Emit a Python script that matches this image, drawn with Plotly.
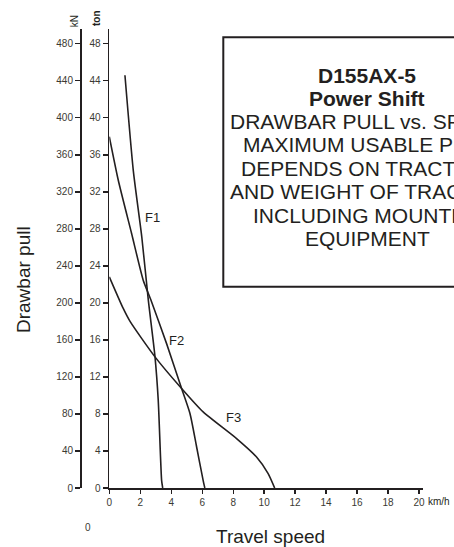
import plotly.graph_objects as go

# ---- data ----
speed_f1 = [1.01, 1.55, 2.10, 2.52, 2.95, 3.16, 3.38, 3.45]
pull_f1 = [44.6, 34.3, 27.1, 20.3, 14.2, 9.5, 0.8, 0.0]

speed_f2 = [0.0, 0.58, 1.44, 2.19, 2.67, 3.70, 4.67, 5.21, 5.64, 6.06, 6.17]
pull_f2 = [37.96, 33.25, 27.5, 22.46, 20.4, 15.6, 10.75, 8.05, 4.43, 0.83, 0.0]

speed_f3 = [0.0, 0.90, 1.34, 2.95, 4.67, 6.06, 8.22, 9.51, 10.26, 10.68]
pull_f3 = [22.82, 19.4, 18.0, 14.17, 10.75, 8.22, 5.34, 3.35, 1.56, 0.0]

gear_names = ["F1", "F2", "F3"]
gear_label_speed = [2.79, 4.35, 8.0]
gear_label_pull = [29.25, 15.9, 7.62]

ton_ticks = [0, 4, 8, 12, 16, 20, 24, 28, 32, 36, 40, 44, 48]
kn_ticks = [0, 40, 80, 120, 160, 200, 240, 280, 320, 360, 400, 440, 480]
speed_ticks = [0, 2, 4, 6, 8, 10, 12, 14, 16, 18, 20]

box_title = ["D155AX-5", "Power Shift"]
box_lines = ["DRAWBAR PULL vs. SPEED", "MAXIMUM USABLE PULL", "DEPENDS ON TRACTION",
             "AND WEIGHT OF TRACTOR", "INCLUDING MOUNTED", "EQUIPMENT"]

# ---- layout geometry ----
W, H = 454, 547
ML, MR, MT, MB = 80, 31, 29, 59
PW = W - ML - MR
PH = H - MT - MB


def px(xr):
    return (xr - ML) / PW


def py(yr):
    return (H - MB - yr) / PH


FONT = "Liberation Sans, Arial, sans-serif"
INK = "#231f20"
TICK = "#3b3a33"

fig = go.Figure()
for sx, sy in [(speed_f1, pull_f1), (speed_f2, pull_f2), (speed_f3, pull_f3)]:
    fig.add_trace(go.Scatter(x=sx, y=sy, mode="lines",
                             line=dict(color=INK, width=1.6, shape="spline", smoothing=0.6),
                             showlegend=False, hoverinfo="skip"))

# invisible trace for the kN axis
fig.add_trace(go.Scatter(x=[0], y=[0], yaxis="y2", mode="markers",
                         marker=dict(opacity=0), showlegend=False, hoverinfo="skip"))

for name, sx, sy in zip(gear_names, gear_label_speed, gear_label_pull):
    fig.add_annotation(x=sx, y=sy, text=name, showarrow=False,
                       font=dict(family=FONT, size=13, color=INK))

x0p = px(109.3)
fig.update_layout(
    width=W, height=H,
    margin=dict(l=ML, r=MR, t=MT, b=MB, pad=0),
    paper_bgcolor="white", plot_bgcolor="white",
    xaxis=dict(domain=[x0p, 1], range=[0, 20.26], tickvals=speed_ticks,
               showgrid=False, zeroline=False, showline=True, linecolor=INK, linewidth=1.8,
               ticks="outside", ticklen=4, tickwidth=1.3, tickcolor=INK,
               tickfont=dict(family=FONT, size=10, color=TICK), anchor="y"),
    yaxis=dict(range=[0, 49.6], tickvals=ton_ticks, anchor="x", side="left",
               showgrid=False, zeroline=False, showline=True, linecolor=INK, linewidth=1.8,
               ticks="outside", ticklen=5, tickwidth=1.3, tickcolor=INK,
               tickfont=dict(family=FONT, size=10, color=TICK)),
    yaxis2=dict(range=[0, 496], tickvals=kn_ticks, overlaying="y", anchor="free",
                position=0, side="left",
                showgrid=False, zeroline=False, showline=True, linecolor=INK, linewidth=1.8,
                ticks="outside", ticklen=5, tickwidth=1.3, tickcolor=INK,
                tickfont=dict(family=FONT, size=10, color=TICK)),
)

# box
fig.add_shape(type="rect", xref="paper", yref="paper",
              x0=px(223.3), x1=px(475), y0=py(286.7), y1=py(37.3),
              line=dict(color=INK, width=2), fillcolor="rgba(0,0,0,0)")

cx = px(367)
ys = [75, 98.3, 121.7, 145, 168.3, 191.7, 215, 238.3]
for i, t in enumerate(box_title + box_lines):
    bold = i < 2
    fig.add_annotation(xref="paper", yref="paper", x=cx, y=py(ys[i]),
                       text=f"<b>{t}</b>" if bold else t, showarrow=False,
                       xanchor="center", yanchor="middle",
                       font=dict(family=FONT, size=21, color=INK))

# axis titles and unit labels
fig.add_annotation(xref="paper", yref="paper", x=px(23), y=py(280), text="Drawbar pull",
                   textangle=-90, showarrow=False, xanchor="center", yanchor="middle",
                   font=dict(family=FONT, size=19, color=INK))
fig.add_annotation(xref="paper", yref="paper", x=px(270.7), y=py(536), text="Travel speed",
                   showarrow=False, xanchor="center", yanchor="middle",
                   font=dict(family=FONT, size=19, color=INK))
fig.add_annotation(xref="paper", yref="paper", x=px(74.5), y=py(21.7), text="kN",
                   textangle=-90, showarrow=False, xanchor="center", yanchor="middle",
                   font=dict(family=FONT, size=10, color=INK))
fig.add_annotation(xref="paper", yref="paper", x=px(96.7), y=py(18.3), text="<b>ton</b>",
                   textangle=-90, showarrow=False, xanchor="center", yanchor="middle",
                   font=dict(family=FONT, size=10, color=INK))
fig.add_annotation(xref="paper", yref="paper", x=px(426.5), y=py(501.7), text="km/h",
                   showarrow=False, xanchor="left", yanchor="middle",
                   font=dict(family=FONT, size=10, color=INK))
fig.add_annotation(xref="paper", yref="paper", x=px(88.3), y=py(527), text="0",
                   showarrow=False, xanchor="center", yanchor="middle",
                   font=dict(family=FONT, size=10, color=TICK))

fig.write_html("out.html",
               config={"displayModeBar": False, "staticPlot": True},
               post_script="document.body.style.margin='0px';"
                           "document.body.style.overflow='hidden';")
